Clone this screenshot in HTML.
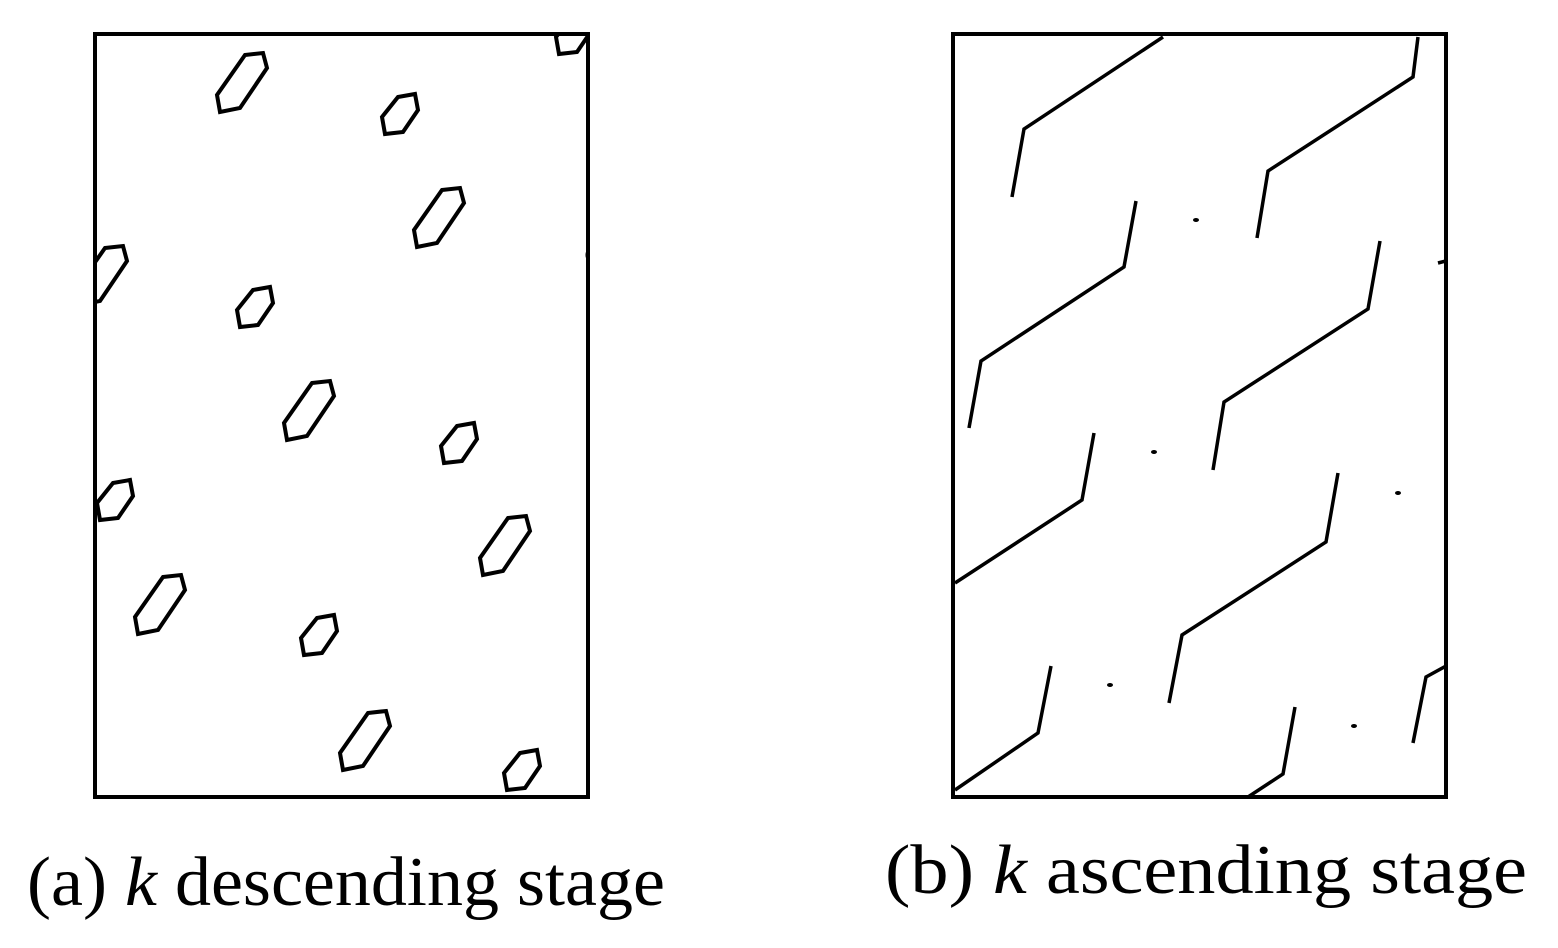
<!DOCTYPE html>
<html><head><meta charset="utf-8"><style>html,body{margin:0;padding:0;background:#fff;}svg{display:block}</style></head>
<body>
<svg width="1558" height="948" viewBox="0 0 1558 948" xmlns="http://www.w3.org/2000/svg">
<defs>
<clipPath id="cl"><rect x="95" y="34" width="493" height="763"/></clipPath>
<clipPath id="cr"><rect x="953" y="34" width="493" height="763"/></clipPath>
<polygon id="L" points="0,0 18,-2 22,13 -5,53 -25,57 -28,40"/>
<polygon id="S" points="0,0 17,-3 20,13 5,35 -13,37 -16,20"/>
</defs>
<g fill="none" stroke="#000" stroke-width="4" stroke-linejoin="miter">
<g clip-path="url(#cl)">
<use href="#L" x="245" y="55"/>
<use href="#L" x="442" y="190"/>
<use href="#L" x="312" y="383"/>
<use href="#L" x="508" y="518"/>
<use href="#L" x="163" y="577"/>
<use href="#L" x="368" y="713"/>
<use href="#L" x="105" y="248"/>
<use href="#S" x="398" y="97"/>
<use href="#S" x="253" y="290"/>
<use href="#S" x="457" y="426"/>
<use href="#S" x="113" y="483"/>
<use href="#S" x="317" y="618"/>
<use href="#S" x="520" y="753"/>
<use href="#S" x="572" y="17"/>
</g>
<rect x="95" y="34" width="493" height="763"/>
<g clip-path="url(#cr)" stroke-width="3.5">
<polyline points="1012,197 1024,129 1163,37"/>
<polyline points="1418,37 1413,77 1268,171 1257,238"/>
<polyline points="1136,201 1124,267 981,361 969,428"/>
<polyline points="1380,241 1368,309 1224,402 1213,470"/>
<polyline points="1094,433 1082,500 955,583"/>
<polyline points="1338,473 1326,542 1182,635 1169,703"/>
<polyline points="1051,666 1038,733 955,790"/>
<polyline points="1295,707 1283,774 1248,797"/>
<polyline points="1413,743 1426,677 1446,666"/>
<line x1="1438" y1="263" x2="1446" y2="261"/>
</g>
<rect x="953" y="34" width="493" height="763"/>
</g>
<g fill="#000">
<ellipse cx="1196" cy="220" rx="3" ry="2"/>
<ellipse cx="1154" cy="452" rx="3" ry="2"/>
<ellipse cx="1398" cy="493" rx="3" ry="2"/>
<ellipse cx="1110" cy="685" rx="3" ry="2"/>
<ellipse cx="1354" cy="726" rx="3" ry="2"/>
<ellipse cx="587" cy="255" rx="1.5" ry="4"/>
</g>
<g font-family="'Liberation Serif', serif" font-size="70" fill="#000">
<text x="27" y="905" textLength="638" lengthAdjust="spacingAndGlyphs">(a) <tspan font-style="italic">k</tspan> descending stage</text>
<text x="885" y="893" textLength="642" lengthAdjust="spacingAndGlyphs">(b) <tspan font-style="italic">k</tspan>  ascending  stage</text>
</g>
</svg>
</body></html>
